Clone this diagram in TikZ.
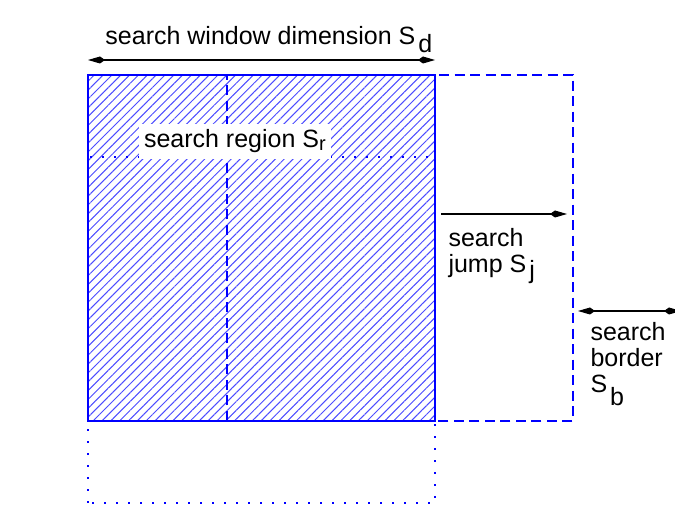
\documentclass[tikz,border=0pt]{standalone}
\usepackage{fontspec}
\setmainfont{Liberation Sans}
\usetikzlibrary{arrows.meta,patterns.meta}

\tikzset{
  kitetip/.tip={Kite[length=6.8pt,width=2.8pt,inset=2pt]},
  dimarrow/.style={black, line width=0.45pt, -kitetip},
  dimboth/.style={black, line width=0.45pt, kitetip-kitetip},
  dimlabel/.style={inner sep=0pt, align=left, font=\fontsize{10}{10.4}\selectfont},
  winline/.style={blue, line width=1.1pt},
  jumpline/.style={blue, line width=0.85pt, dash pattern=on 4pt off 2.2pt},
  downline/.style={blue, line width=0.85pt, dash pattern=on 0.8pt off 4pt}
}

\begin{document}
\begin{tikzpicture}[x=0.4pt, y=0.4pt]

		\clip (0,0) rectangle (675,514);
		\fill[white] (0,0) rectangle (675,514);

		% corners of the search window
		\coordinate (win sw) at (88,93);
		\coordinate (win ne) at (435,439);
		\coordinate (jump sw) at (227,93);
		\coordinate (jump ne) at (573,439);
		\coordinate (down sw) at (88,11);
		\coordinate (down ne) at (435,357);

		% hatched window
		\fill[pattern={Lines[angle=45, distance=2.5pt, line width=0.4pt]}, pattern color=blue!70] (win sw) rectangle (win ne);

		% window moved by one jump
		\draw[jumpline] (jump sw) rectangle (jump ne);
		\draw[downline] (down sw) rectangle (down ne);
		\draw[winline] (win sw) rectangle (win ne);

		\node[dimlabel, fill=white, inner sep=2.2pt, anchor=base west] (region) at (138,366) {search region S\raisebox{-1pt}{\footnotesize r}};

		% dimensions
		\coordinate (dim w) at (88,454);
		\coordinate (dim e) at (435,454);
		\draw[dimboth] (dim w) -- (dim e);
		\node[dimlabel, anchor=base west] (dimension) at (105,469) {search window dimension S\kern1.2pt\raisebox{-3.2pt}{d}};

		\coordinate (jump w) at (441,300);
		\coordinate (jump e) at (567,300);
		\draw[dimarrow] (jump w) -- (jump e);
		\node[dimlabel, anchor=base west] (jump) at (448,241) {search\\jump S\kern1.2pt\raisebox{-2.2pt}{j}};

		\coordinate (border w) at (578,203);
		\coordinate (border e) at (681,203);
		\draw[dimboth] (border w) -- (border e);
		\node[dimlabel, anchor=base west] (border) at (590,121) {search\\border\\S\kern1.2pt\raisebox{-5pt}{b}};

\end{tikzpicture}
\end{document}
